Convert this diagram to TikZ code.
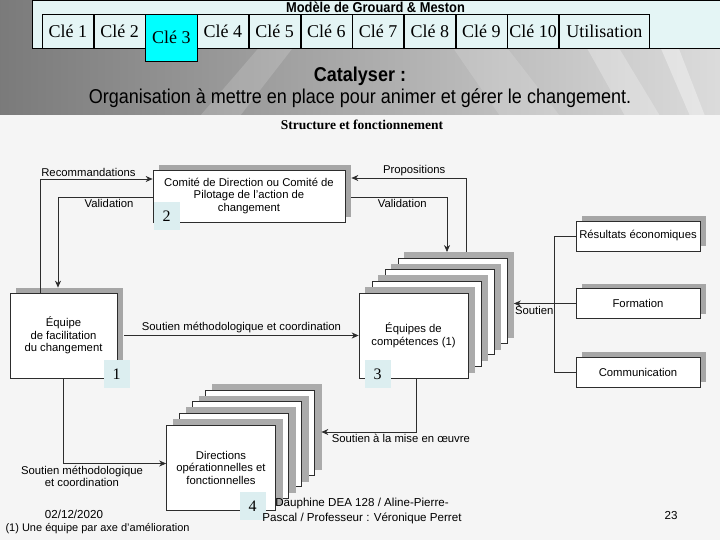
\documentclass[tikz,border=0pt]{standalone}
\usepackage{fontspec}
\setmainfont{Liberation Serif}
\setsansfont{Liberation Sans}
\newfontfamily\etroite[FakeStretch=0.9]{Liberation Sans}
\usepackage{tikz}
\usetikzlibrary{arrows.meta, shadows, calc}

\definecolor{entetefond}{RGB}{228,245,245}
\definecolor{numfond}{RGB}{220,238,240}
\definecolor{clecyan}{RGB}{0,255,255}
\definecolor{traitgris}{RGB}{45,45,45}

\newcommand{\textdiag}{\sffamily\fontsize{11.3}{12.5}\selectfont}
\newcommand{\textpied}{\sffamily\fontsize{11.6}{15}\selectfont}

\tikzset{
  cadre/.style={draw=traitgris, fill=white, line width=0.7pt, align=center, inner sep=1pt, font=\textdiag},
  ombre/.style={general shadow={fill=black!35, shadow xshift=6pt, shadow yshift=5pt}},
  pile/.style={minimum width=109pt, minimum height=85pt, inner sep=0pt, line width=0.7pt, align=center, font=\textdiag},
  lien/.style={draw=traitgris, line width=0.7pt},
  fleche/.style={lien, -{Stealth[length=7pt, width=6pt]}},
  etiq/.style={font=\textdiag, inner sep=2pt},
  numero/.style={fill=numfond, minimum width=26pt, minimum height=28pt, inner sep=0pt, font=\rmfamily\fontsize{16}{16}\selectfont},
  cle/.style={draw=black, line width=0.6pt, anchor=north west, minimum width=51.1pt, minimum height=34pt, inner sep=0pt, font=\rmfamily\fontsize{18}{18}\selectfont}
}

\begin{document}
\begin{tikzpicture}[x=1pt, y=-1pt]
  \useasboundingbox (0,0) rectangle (720,540);

  % Fond de la diapositive
  \shade[left color=black!52, middle color=black!32, right color=black!14] (0,0) rectangle (720,116);
  \fill[white, opacity=0.16] (200,116) -- (300,0) -- (330,0) -- (240,116) -- cycle;
  \fill[white, opacity=0.14] (420,0) -- (470,0) -- (560,116) -- (500,116) -- cycle;
  \fill[white, opacity=0.25] (560,0) -- (590,0) -- (660,116) -- (625,116) -- cycle;
  \fill[white, opacity=0.35] (640,0) -- (660,0) -- (705,116) -- (690,116) -- cycle;
  \fill[black!4] (0,115) rectangle (720,540);

  % Bandeau des clés
  \draw[fill=entetefond, line width=0.6pt] (32,0) rectangle (720,48);
  \node[font=\etroite\bfseries\fontsize{14.3}{14}\selectfont] (modele) at (375.5,7.5) {Modèle de Grouard \& Meston};
  \node[cle] (c1) at (42,14) {Clé 1};
  \node[cle] (c2) at (c1.north east) {Clé 2};
  \node[cle, fill=clecyan, minimum height=47pt] (c3) at (c2.north east) {Clé 3};
  \node[cle] (c4) at (c3.north east) {Clé 4};
  \node[cle] (c5) at (c4.north east) {Clé 5};
  \node[cle] (c6) at (c5.north east) {Clé 6};
  \node[cle] (c7) at (c6.north east) {Clé 7};
  \node[cle] (c8) at (c7.north east) {Clé 8};
  \node[cle] (c9) at (c8.north east) {Clé 9};
  \node[cle] (c10) at (c9.north east) {Clé 10};
  \node[cle, minimum width=90pt] (util) at (c10.north east) {Utilisation};

  % Titre
  \node[font=\etroite\bfseries\fontsize{20}{20}\selectfont] (catalyser) at (360,76) {Catalyser :};
  \node[font=\etroite\fontsize{20}{20}\selectfont] (organisation) at (360,98) {Organisation à mettre en place pour animer et gérer le changement.};
  \node[font=\rmfamily\bfseries\fontsize{13.5}{13.5}\selectfont] (structure) at (362,125) {Structure et fonctionnement};

  % Cadres
  \node[cadre, ombre, minimum width=192pt, minimum height=52pt] (comite) at (249,196) {Comité de Direction ou Comité de\\Pilotage de l'action de\\changement};
  \node[cadre, ombre, minimum width=107pt, minimum height=85pt] (facil) at (63.5,335.5) {Équipe\\de facilitation\\du changement};
  \node[cadre, ombre, minimum width=124pt, minimum height=30pt] (resultats) at (638,236) {Résultats économiques};
  \node[cadre, ombre, minimum width=124pt, minimum height=30pt] (formation) at (638,303.5) {Formation};
  \node[cadre, ombre, minimum width=124pt, minimum height=30pt] (communication) at (638,372) {Communication};

  % Piles
  \coordinate (pileA) at (413.5,335.5);
  \foreach \i in {7,6,...,1}{
    \ifodd\i \def\fond{black!33}\def\bord{black!33}\else\def\fond{white}\def\bord{traitgris}\fi
    \node[pile, fill=\fond, draw=\bord] (eq\i) at ($(pileA)+(6.5*\i,-5.8*\i)$) {};
  }
  \node[pile, fill=white, draw=traitgris] (equipes) at (pileA) {Équipes de\\compétences (1)};

  \coordinate (pileB) at (221,467.5);
  \foreach \i in {7,6,...,1}{
    \ifodd\i \def\fond{black!33}\def\bord{black!33}\else\def\fond{white}\def\bord{traitgris}\fi
    \node[pile, fill=\fond, draw=\bord] (dir\i) at ($(pileB)+(6.5*\i,-5.8*\i)$) {};
  }
  \node[pile, fill=white, draw=traitgris] (directions) at (pileB) {Directions\\opérationnelles et\\fonctionnelles};

  % Liens
  \coordinate (recX) at (40,179);
  \coordinate (valX) at (58,197);
  \coordinate (propX) at (466,178);
  \coordinate (valdX) at (447,197);
  \coordinate (miseX) at (416,432);

  \draw[fleche] (facil.north -| recX) |- (comite.west |- recX) node[etiq, above, pos=0.715] {Recommandations};
  \draw[fleche] (comite.west |- valX) -| ($(facil.north -| valX)+(0,-5)$) node[etiq, below, pos=0.23] {Validation};
  \draw[fleche] (eq7.north -| propX) |- ($(comite.east |- propX)+(6,0)$) node[etiq, above, pos=0.726] {Propositions};
  \draw[fleche] ($(comite.east |- valdX)+(6,0)$) -| (eq7.north -| valdX) node[etiq, below, pos=0.266] {Validation};
  \draw[fleche] ($(facil.east)+(7,0)$) -- (equipes.west) node[etiq, above, midway] {Soutien méthodologique et coordination};
  \draw[fleche] (facil.south) |- ($(directions.west)+(0,-4)$) node[etiq, below, pos=0.59, align=center] {Soutien méthodologique\\et coordination};
  \draw[fleche] (equipes.south -| miseX) |- (dir7.east |- miseX) node[etiq, below, pos=0.58] {Soutien à la mise en œuvre};
  \draw[lien] (resultats.west) -- ++(-21,0) |- (communication.west);
  \draw[fleche] (formation.west) -- (eq7.east |- formation.west) node[etiq, below, pos=0.67] {Soutien};

  % Numéros
  \node[numero] (n2) at (166.5,216.5) {2};
  \node[numero] (n1) at (116.5,374) {1};
  \node[numero] (n3) at (377.5,374) {3};
  \node[numero] (n4) at (252.5,506) {4};

  % Pied de page
  \node[font=\textpied] (date) at (74,514) {02/12/2020};
  \node[font=\sffamily\fontsize{11}{12}\selectfont, anchor=west] (note) at (2,529) {(1) Une équipe par axe d'amélioration};
  \node[font=\textpied, align=center] (auteur) at (362,510.5) {Dauphine DEA 128 / Aline-Pierre-\\Pascal / Professeur : Véronique Perret};
  \node[font=\textpied] (page) at (671,516) {23};
\end{tikzpicture}
\end{document}
